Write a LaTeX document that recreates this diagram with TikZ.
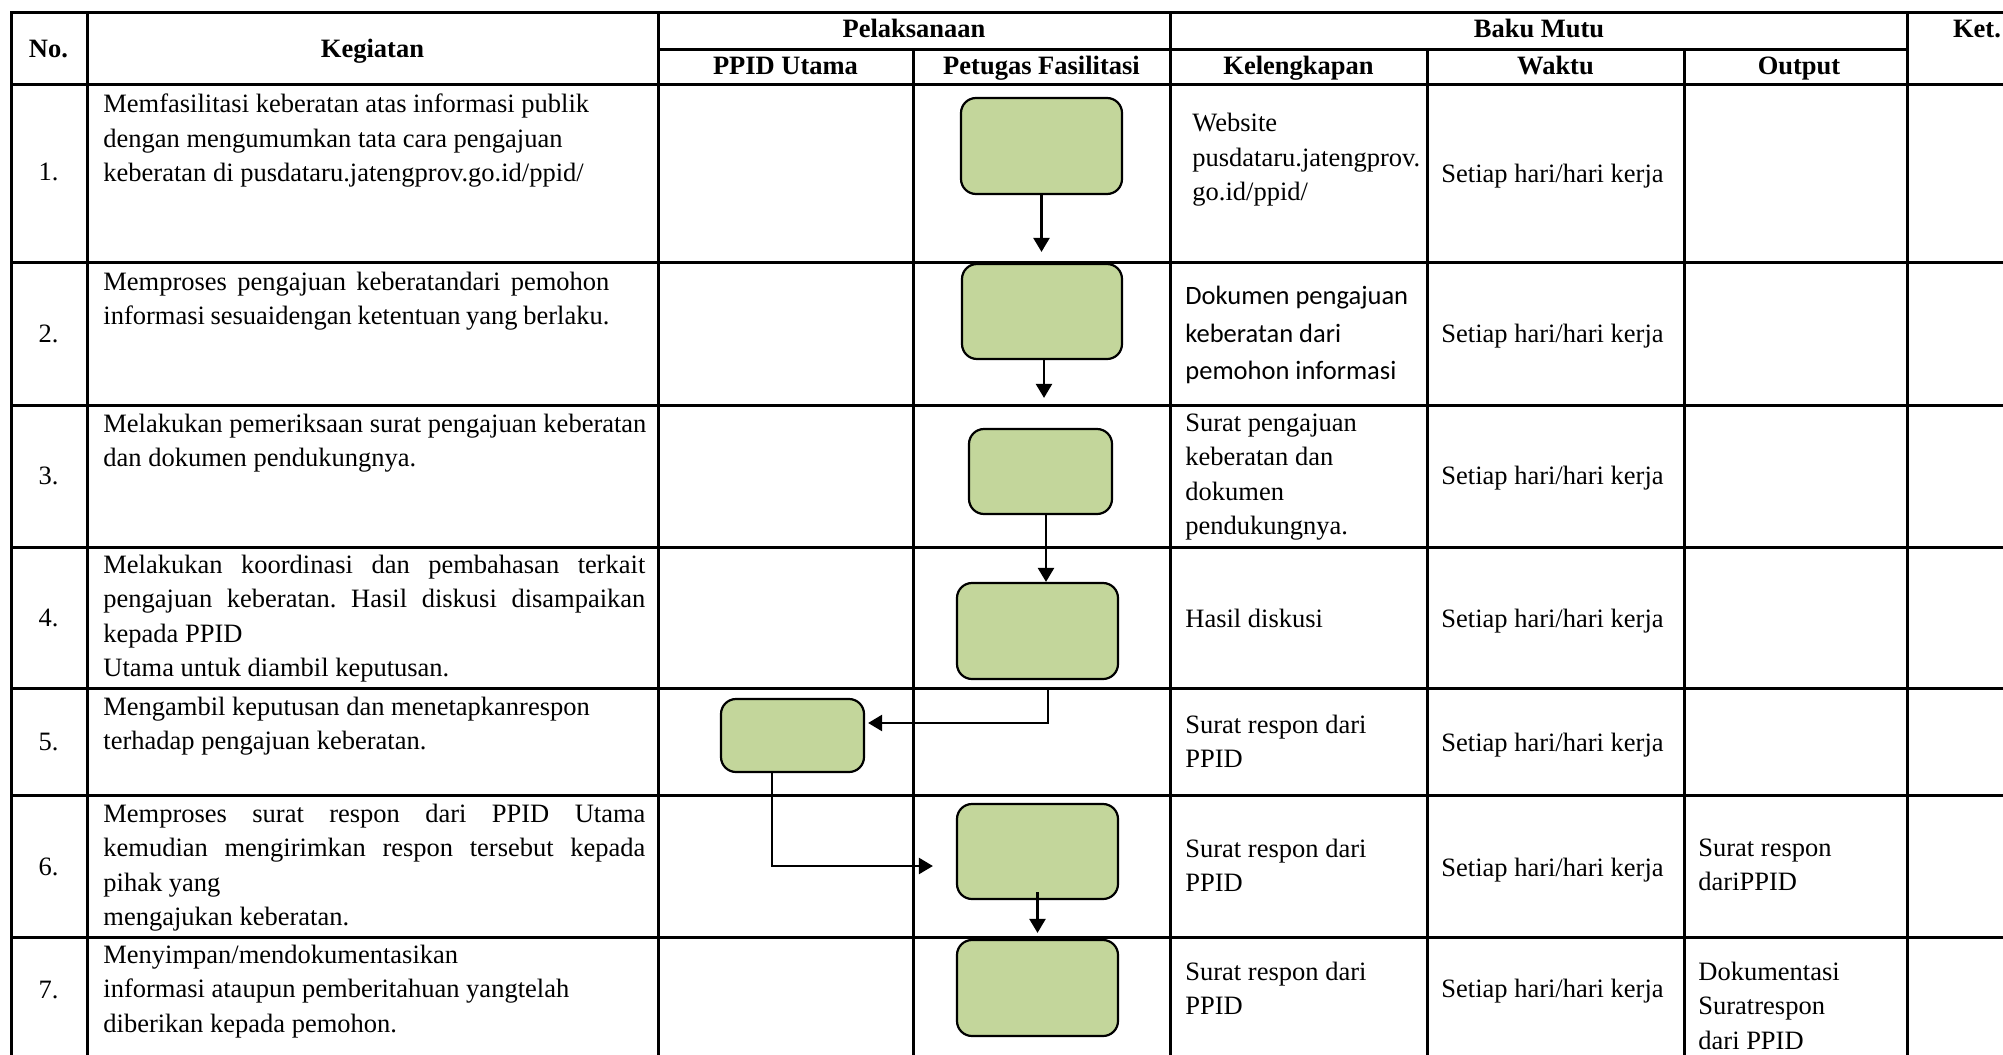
\documentclass[tikz,border=0pt]{standalone}
\usepackage{fontspec}
\setmainfont{Liberation Serif}
\newfontfamily\calibri{Carlito}
\usetikzlibrary{arrows.meta}
\definecolor{boxgreen}{HTML}{C3D69B}
\frenchspacing
\tikzset{
  procbox/.style={draw, rectangle, rounded corners=7.5pt, fill=boxgreen, line width=1.1pt},
  flowline/.style={line width=1.2pt, -{Triangle[width=8pt,length=7pt]}},
  tabline/.style={line width=1.5pt},
  celltext/.style={anchor=north west, align=left, inner sep=0pt, font=\fontsize{13.25}{17.25}\selectfont},
  onetext/.style={anchor=west, inner sep=0pt, font=\fontsize{13.25}{17.25}\selectfont},
  num/.style={anchor=base, inner sep=0pt, font=\fontsize{13.25}{17.25}\selectfont},
  head/.style={anchor=base, inner sep=0pt, font=\fontsize{13.25}{17.25}\selectfont\bfseries}
}
\newcommand{\proc}[5]{\node[procbox, minimum width=#4*0.5pt, minimum height=#5*0.5pt] (#1) at (#2,#3) {};}
\newcommand{\txt}[4]{\node[celltext] (#1) at (#2,#3) {#4};}
\newcommand{\hd}[4]{\node[head] (#1) at (#2,#3) {#4};}
\newcommand{\waktu}[2]{\node[onetext] (#1) at (1441,#2) {Setiap hari/hari kerja};}
\newcommand{\just}[2]{\makebox[#1pt][s]{#2}}

\begin{document}
\begin{tikzpicture}[x=0.5pt,y=-0.5pt]
    \clip (0,0) rectangle (2003,1055);
    % table
    \draw[tabline] (11,12.5) rectangle (2040,1070);
    \draw[tabline] (658,49) -- (1907,49);
    \draw[tabline] (11,84) -- (2040,84) (11,262) -- (2040,262) (11,405) -- (2040,405) (11,547) -- (2040,547)
        (11,688) -- (2040,688) (11,795) -- (2040,795) (11,937) -- (2040,937);
    \draw[tabline] (87,12.5) -- (87,1070) (658,12.5) -- (658,1070) (1170,12.5) -- (1170,1070) (1907,12.5) -- (1907,1070);
    \draw[tabline] (913,49) -- (913,1070) (1427,49) -- (1427,1070) (1684,49) -- (1684,1070);

    \hd{hNo}{48.5}{57}{No.} \hd{hKeg}{372.5}{57}{Kegiatan}
    \hd{hPel}{914}{37}{Pelaksanaan} \hd{hBaku}{1539}{37}{Baku Mutu} \hd{hKet}{1977}{37}{Ket.}
    \hd{hPPID}{785.5}{74}{PPID Utama} \hd{hPet}{1041.5}{74}{Petugas Fasilitasi}
    \hd{hKel}{1298.5}{74}{Kelengkapan} \hd{hWak}{1555.5}{74}{Waktu} \hd{hOut}{1799}{74}{Output}

    \node[num] (no1) at (48.5,180) {1.}; \node[num] (no2) at (48.5,342) {2.};
    \node[num] (no3) at (48.5,484) {3.}; \node[num] (no4) at (48.5,626) {4.};
    \node[num] (no5) at (48.5,750) {5.}; \node[num] (no6) at (48.5,875) {6.};
    \node[num] (no7) at (48.5,998) {7.};

    \txt{keg1}{103}{93.5}{Memfasilitasi keberatan atas informasi publik\\dengan mengumumkan tata cara pengajuan\\keberatan di pusdataru.jatengprov.go.id/ppid/}
    \txt{keg2}{103}{271.5}{\just{253}{Memproses pengajuan keberatandari pemohon}\\\just{253}{informasi sesuaidengan ketentuan yang berlaku.}}
    \txt{keg3}{103}{413.5}{Melakukan pemeriksaan surat pengajuan keberatan\\dan dokumen pendukungnya.}
    \txt{keg4}{103}{554.5}{\just{271}{Melakukan koordinasi dan pembahasan terkait}\\\just{271}{pengajuan keberatan. Hasil diskusi disampaikan}\\kepada PPID\\Utama untuk diambil keputusan.}
    \txt{keg5}{103}{696.5}{Mengambil keputusan dan menetapkanrespon\\terhadap pengajuan keberatan.}
    \txt{keg6}{103}{803.5}{\just{271}{Memproses surat respon dari PPID Utama}\\\just{271}{kemudian mengirimkan respon tersebut kepada}\\pihak yang\\mengajukan keberatan.}
    \txt{keg7}{103}{944.5}{Menyimpan/mendokumentasikan\\informasi ataupun pemberitahuan yangtelah\\diberikan kepada pemohon.}

    \txt{kel1}{1192}{113}{Website\\pusdataru.jatengprov.\\go.id/ppid/}
    \node[celltext, font=\calibri\fontsize{13.25}{18.85}\selectfont] (kel2) at (1185,285.5) {Dokumen pengajuan\\keberatan dari\\pemohon informasi};
    \txt{kel3}{1185}{413.5}{Surat pengajuan\\keberatan dan\\dokumen\\pendukungnya.}
    \txt{kel4}{1185}{608.5}{Hasil diskusi}
    \txt{kel5}{1185}{714.5}{Surat respon dari\\PPID}
    \txt{kel6}{1185}{838.5}{Surat respon dari\\PPID}
    \txt{kel7}{1185}{961.5}{Surat respon dari\\PPID}

    \waktu{wak1}{176.5} \waktu{wak2}{336} \waktu{wak3}{478} \waktu{wak4}{621}
    \waktu{wak5}{745} \waktu{wak6}{870} \waktu{wak7}{991.5}

    \txt{out6}{1698}{838.5}{Surat respon\\dariPPID}
    \txt{out7}{1698}{961.5}{Dokumentasi\\Suratrespon\\dari PPID}

    % flow
    \proc{b1}{1041.5}{146}{161}{96}   \proc{b2}{1042}{311.5}{160}{95}
    \proc{b3}{1040.5}{471.5}{143}{85} \proc{b4}{1037.5}{631}{161}{96}
    \proc{b5}{792.5}{735.5}{143}{73}  \proc{b6}{1037.5}{851.5}{161}{95}
    \proc{b7}{1037.5}{988}{161}{96}
    \draw[flowline, shorten >=5.5pt] (b1.south) -- (b1.south |- b2.north);
    \draw[flowline, shorten >=15pt] ([xshift=1pt]b2.south) -- ([xshift=1pt]b2.south |- b3.north);
    \draw[flowline] ([xshift=2.75pt]b3.south) -- ([xshift=2.75pt]b3.south |- b4.north);
    \draw[flowline, shorten <=4.5pt, shorten >=1.5pt] ([xshift=5.25pt]b4.south) |- ([yshift=6.25pt]b5.east);
    \draw[flowline, shorten >=11.5pt] ([xshift=-10.25pt]b5.south) |- ([yshift=-7.25pt]b6.west);
    \draw[flowline, shorten <=-4pt, shorten >=3pt] (b6.south) -- (b6.south |- b7.north);
\end{tikzpicture}
\end{document}
